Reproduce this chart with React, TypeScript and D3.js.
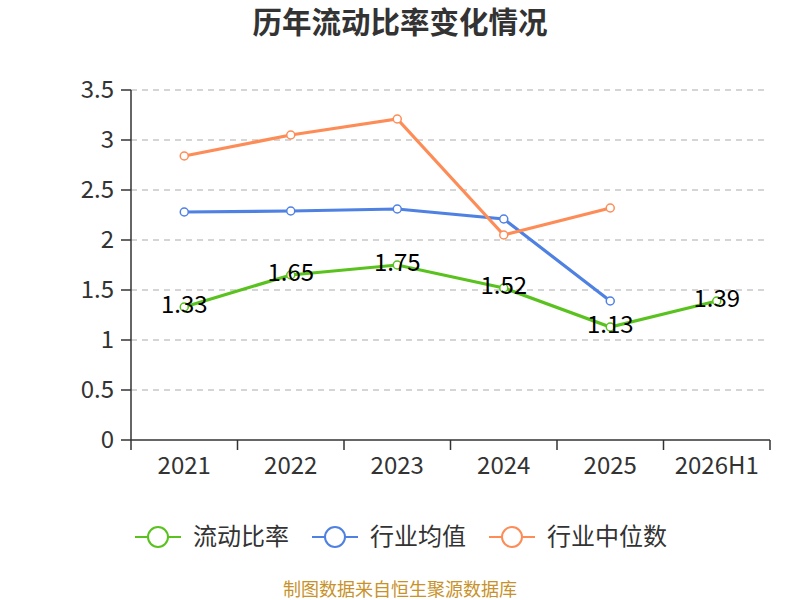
import React from "react";
import * as d3 from "d3";

const categories = ["2021", "2022", "2023", "2024", "2025", "2026H1"];
const ratioValues: (number | null)[] = [1.33, 1.65, 1.75, 1.52, 1.13, 1.39];
const industryAvg: (number | null)[] = [2.28, 2.29, 2.31, 2.21, 1.39, null];
const industryMedian: (number | null)[] = [2.84, 3.05, 3.21, 2.05, 2.32, null];
const yTicks = [0, 0.5, 1, 1.5, 2, 2.5, 3, 3.5];
const yTickLabels = ["0", "0.5", "1", "1.5", "2", "2.5", "3", "3.5"];

const seriesNames = ["流动比率", "行业均值", "行业中位数"];
const seriesColors = ["#5ac21e", "#4f81e3", "#fd8c57"];

const W = 800;
const H = 600;
const left = 131;
const right = 770;
const top = 90;
const bottom = 440;

export default function App() {
  const x = d3.scaleBand<string>().domain(categories).range([left, right]);
  const y = d3.scaleLinear().domain([0, 3.5]).range([bottom, top]);
  const cx = (c: string) => (x(c) as number) + x.bandwidth() / 2;

  const allSeries = [ratioValues, industryAvg, industryMedian];
  const lineGen = d3
    .line<[string, number | null]>()
    .defined((d) => d[1] !== null)
    .x((d) => cx(d[0]))
    .y((d) => y(d[1] as number));

  const font = "'Noto Sans CJK SC', 'Noto Sans', sans-serif";
  const legendX = [135, 312, 489];

  return (
    <svg
      width={W}
      height={H}
      style={{ position: "absolute", left: 0, top: 0, background: "#fff" }}
      fontFamily={font}
    >
      <text x={400} y={33} textAnchor="middle" fontSize={29.5} fontWeight="bold" fill="#333">
        历年流动比率变化情况
      </text>

      {yTicks.map((t, i) => (
        <g key={t}>
          {t !== 0 && (
            <line
              x1={left}
              x2={right - 6}
              y1={y(t)}
              y2={y(t)}
              stroke="#c8c8c8"
              strokeDasharray="6,5"
              strokeWidth={1.5}
            />
          )}
          <line x1={left - 10} x2={left} y1={y(t)} y2={y(t)} stroke="#333" strokeWidth={1.5} />
          <text
            x={left - 17}
            y={y(t)}
            dy="0.35em"
            textAnchor="end"
            fontSize={24}
            fill="#333"
          >
            {yTickLabels[i]}
          </text>
        </g>
      ))}
      <line x1={left} x2={left} y1={top} y2={bottom} stroke="#333" strokeWidth={1.5} />
      <line x1={left} x2={right} y1={bottom} y2={bottom} stroke="#333" strokeWidth={1.5} />
      {categories.map((c) => (
        <line
          key={"t" + c}
          x1={x(c) as number}
          x2={x(c) as number}
          y1={bottom}
          y2={bottom + 10}
          stroke="#333"
          strokeWidth={1.5}
        />
      ))}
      <line x1={right} x2={right} y1={bottom} y2={bottom + 10} stroke="#333" strokeWidth={1.5} />
      {categories.map((c) => (
        <text key={"l" + c} x={cx(c)} y={474} textAnchor="middle" fontSize={24} fill="#333">
          {c}
        </text>
      ))}

      {allSeries.map((vals, si) => {
        const pts = categories.map((c, i) => [c, vals[i]] as [string, number | null]);
        return (
          <g key={"s" + si}>
            <path d={lineGen(pts) || ""} fill="none" stroke={seriesColors[si]} strokeWidth={3.2} />
            {pts
              .filter((p) => p[1] !== null)
              .map((p) => (
                <circle
                  key={p[0]}
                  cx={cx(p[0])}
                  cy={y(p[1] as number)}
                  r={4}
                  fill="#fff"
                  stroke={seriesColors[si]}
                  strokeWidth={1.5}
                />
              ))}
          </g>
        );
      })}

      {categories.map((c, i) => (
        <text
          key={"d" + c}
          x={cx(c)}
          y={y(ratioValues[i] as number) - 2}
          dy="0.35em"
          textAnchor="middle"
          fontSize={24}
          fill="#000"
        >
          {(ratioValues[i] as number).toFixed(2)}
        </text>
      ))}

      {seriesNames.map((n, i) => (
        <g key={"lg" + n}>
          <line
            x1={legendX[i]}
            x2={legendX[i] + 46}
            y1={537}
            y2={537}
            stroke={seriesColors[i]}
            strokeWidth={2}
          />
          <circle cx={legendX[i] + 23} cy={537} r={10} fill="#fff" stroke={seriesColors[i]} strokeWidth={2} />
          <text x={legendX[i] + 58} y={537} dy="0.35em" fontSize={24} fill="#333">
            {n}
          </text>
        </g>
      ))}

      <text x={400} y={596} textAnchor="middle" fontSize={18} fill="#c8922a">
        制图数据来自恒生聚源数据库
      </text>
    </svg>
  );
}
